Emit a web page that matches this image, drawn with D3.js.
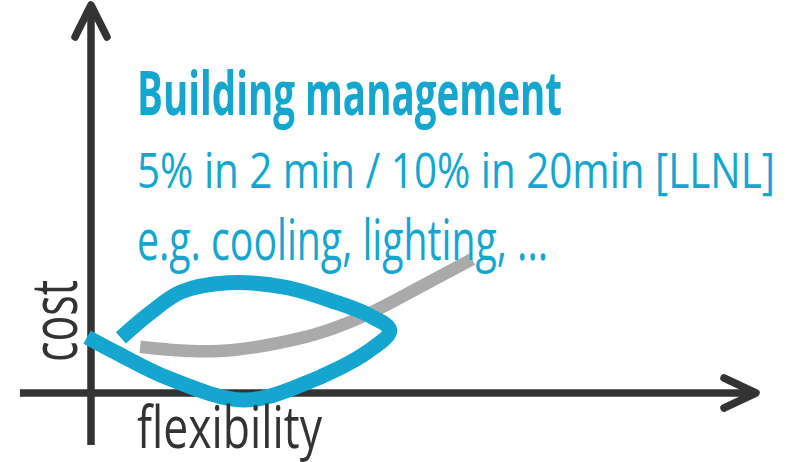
<!DOCTYPE html>
<html>
<head>
<meta charset="utf-8">
<script src="https://cdn.jsdelivr.net/npm/d3@7"></script>
<style>
  html, body { margin: 0; padding: 0; background: #fff; }
  svg { display: block; }
  text { font-family: "Open Sans", "Noto Sans", sans-serif; }
</style>
</head>
<body>
<svg id="chart" width="789" height="462"></svg>
<script>
// ---- data (abstract units: flexibility 0..100, cost 0..100) ----
const titleText = "Building management";
const subtitleLines = ["5% in 2 min / 10% in 20min [LLNL]", "e.g. cooling, lighting, ..."];
const xLabel = "flexibility";
const yLabel = "cost";

// blue "building management" loop
const blueFlex = [-0.6, 3.9, 11.5, 23.0, 31.7, 41.8, 45.0, 41.8, 36.7, 29.1, 20.6, 13.5, 8.9, 4.5];
const blueCost = [14.4, 10.3, 3.9, -1.8, 2.1, 10.8, 16.2, 20.1, 23.5, 27.3, 28.4, 26.0, 20.6, 14.2];

// gray reference cost curve
const grayFlex = [7.4, 15.0, 21.5, 31.7, 36.7, 41.8, 51.8, 57.4];
const grayCost = [11.9, 10.8, 11.1, 14.2, 16.8, 20.4, 29.4, 34.5];

// ---- scales ----
const x = d3.scaleLinear().domain([0, 100]).range([91, 755]);
const y = d3.scaleLinear().domain([0, 100]).range([393, 5]);

const svg = d3.select("#chart");
const BLUE = "#14a6ce", DARK = "#333333", GRAY = "#aaaaaa";

// ---- axes ----
const axes = svg.append("g").attr("stroke", DARK).attr("fill", "none")
  .attr("stroke-width", 7.5);
axes.append("line").attr("x1", x(-10.7)).attr("x2", x(99)).attr("y1", y(0)).attr("y2", y(0));
axes.append("line").attr("x1", x(0)).attr("x2", x(0)).attr("y1", y(-13.4)).attr("y2", y(98.5));
// arrowheads
axes.append("path").attr("stroke-linecap", "round").attr("stroke-linejoin", "round")
  .attr("d", d3.line()([[x(0) - 16, y(100) + 32], [x(0), y(100)], [x(0) + 16, y(100) + 32]]));
axes.append("path").attr("stroke-linecap", "round").attr("stroke-linejoin", "round")
  .attr("d", d3.line()([[x(100) - 31, y(0) - 15], [x(100) + 1, y(0)], [x(100) - 31, y(0) + 15]]));

// ---- curves ----
const line = d3.line().x(d => x(d[0])).y(d => y(d[1])).curve(d3.curveCatmullRom.alpha(0.5));

svg.append("path")
  .datum(grayFlex.map((f, i) => [f, grayCost[i]]))
  .attr("d", line).attr("fill", "none").attr("stroke", GRAY)
  .attr("stroke-width", 12.5).attr("stroke-linecap", "butt");

svg.append("path")
  .datum(blueFlex.map((f, i) => [f, blueCost[i]]))
  .attr("d", line).attr("fill", "none").attr("stroke", BLUE)
  .attr("stroke-width", 15).attr("stroke-linecap", "butt").attr("stroke-linejoin", "round");

// ---- texts ----
svg.append("text").text(titleText)
  .attr("x", 137).attr("y", 115).attr("fill", BLUE)
  .attr("font-size", 60).attr("font-weight", 700)
  .attr("textLength", 425).attr("lengthAdjust", "spacingAndGlyphs");

svg.append("text").text(subtitleLines[0])
  .attr("x", 137).attr("y", 188).attr("fill", BLUE)
  .attr("font-size", 49)
  .attr("textLength", 638).attr("lengthAdjust", "spacingAndGlyphs");

svg.append("text").text(subtitleLines[1])
  .attr("x", 137).attr("y", 260).attr("fill", BLUE)
  .attr("font-size", 56)
  .attr("textLength", 411).attr("lengthAdjust", "spacingAndGlyphs");

svg.append("text").text(xLabel)
  .attr("x", 137).attr("y", 448).attr("fill", DARK)
  .attr("font-size", 58)
  .attr("textLength", 185).attr("lengthAdjust", "spacingAndGlyphs");

svg.append("text").text(yLabel)
  .attr("transform", "translate(77,362) rotate(-90)").attr("fill", DARK)
  .attr("font-size", 64)
  .attr("textLength", 82).attr("lengthAdjust", "spacingAndGlyphs");
</script>
</body>
</html>
